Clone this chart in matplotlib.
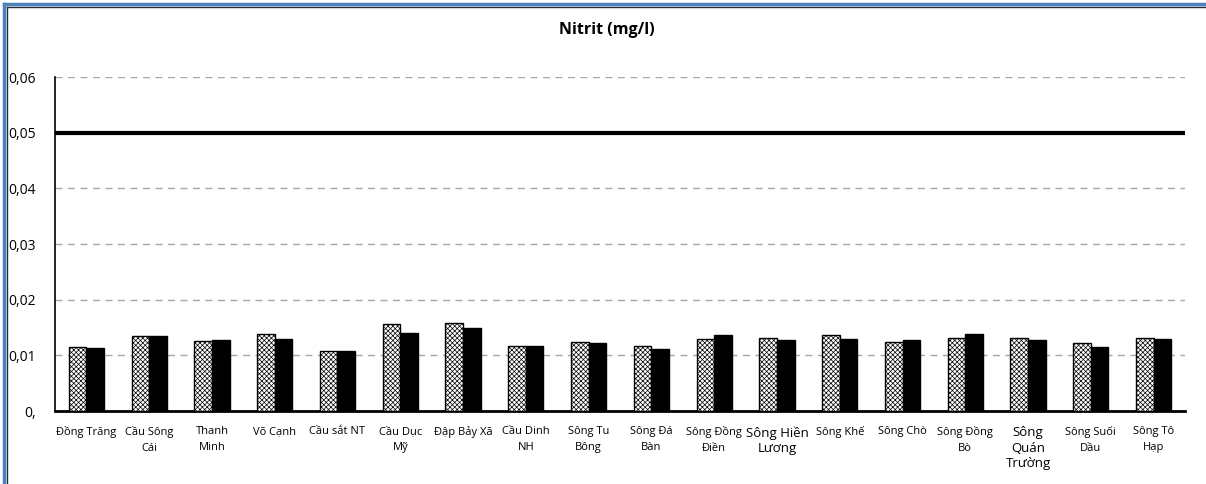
import matplotlib.pyplot as plt
from matplotlib.lines import Line2D
import numpy as np

plt.rcParams['font.family'] = ['Open Sans', 'DejaVu Sans']
plt.rcParams['hatch.linewidth'] = 0.5

# Monitoring stations and nitrite readings (mg/l), two sampling rounds
stations = ['Đồng Trăng', 'Cầu Sông\nCái', 'Thanh\nMinh', 'Võ Cạnh', 'Cầu sắt NT',
            'Cầu Dục\nMỹ', 'Đập Bảy Xã', 'Cầu Dinh\nNH', 'Sông Tu\nBông', 'Sông Đá\nBàn',
            'Sông Đồng\nĐiền', 'Sông Hiền\nLương', 'Sông Khế', 'Sông Chò', 'Sông Đồng\nBò',
            'Sông\nQuán\nTrường', 'Sông Suối\nDầu', 'Sông Tô\nHạp']
round_1 = [0.0115, 0.0135, 0.0126, 0.0139, 0.0108, 0.0156, 0.0158, 0.0117, 0.0124,
           0.0117, 0.0130, 0.0131, 0.0136, 0.0124, 0.0131, 0.0131, 0.0123, 0.0132]
round_2 = [0.0113, 0.0134, 0.0127, 0.0130, 0.0107, 0.0140, 0.0150, 0.0117, 0.0122,
           0.0112, 0.0137, 0.0128, 0.0130, 0.0127, 0.0138, 0.0128, 0.0115, 0.0130]
limit = 0.05
yticks = [0, 0.01, 0.02, 0.03, 0.04, 0.05, 0.06]
ytick_labels = ['0,', '0,01', '0,02', '0,03', '0,04', '0,05', '0,06']
big_labels = ['Sông Hiền\nLương', 'Sông\nQuán\nTrường']

fig = plt.figure(figsize=(12.06, 4.84), dpi=100)
ax = fig.add_axes([0.0456, 0.1508, 0.9370, 0.6900])

x = np.arange(len(stations))
w = 0.28
ax.bar(x - w / 2, round_1, w, color='white', edgecolor='black', linewidth=1.0,
       hatch='xxxxxxx', zorder=3)
ax.bar(x + w / 2, round_2, w, color='black', edgecolor='black', linewidth=1.0, zorder=3)

ax.axhline(limit, color='black', linewidth=3, zorder=4)

ax.set_xlim(-0.5, len(stations) - 0.5)
ax.set_ylim(0, 0.06)
ax.set_yticks(yticks)
ax.set_yticklabels(ytick_labels, fontsize=10)
ax.yaxis.grid(True, linestyle=(0, (5, 4)), color='#a6a6a6', linewidth=1)
ax.set_axisbelow(True)

ax.set_xticks(x)
ax.set_xticklabels(stations, fontsize=8, linespacing=1.6)
for lbl in ax.get_xticklabels():
    if lbl.get_text() in big_labels:
        lbl.set_fontsize(9.5)
        lbl.set_linespacing(1.25)
ax.tick_params(axis='both', length=0)
ax.tick_params(axis='x', pad=11)
ax.tick_params(axis='y', pad=14)

for side in ['top', 'right']:
    ax.spines[side].set_visible(False)
ax.spines['left'].set_linewidth(1.2)
ax.spines['bottom'].set_linewidth(2)

fig.text(0.503, 0.938, 'Nitrit (mg/l)', ha='center', va='center',
         fontsize=11.5, fontweight='bold')

# window frame along the left and top edges
for coords in [([0.0035, 0.0035], [0, 0.992]), ([0.0035, 1], [0.992, 0.992])]:
    fig.add_artist(Line2D(*coords, transform=fig.transFigure, color='#4f81bd', linewidth=2.5))
for coords in [([0.0058, 0.0058], [0, 0.986]), ([0.0058, 1], [0.986, 0.986])]:
    fig.add_artist(Line2D(*coords, transform=fig.transFigure, color='#1f2d3d', linewidth=1))

fig.savefig('out.png', dpi=100)
